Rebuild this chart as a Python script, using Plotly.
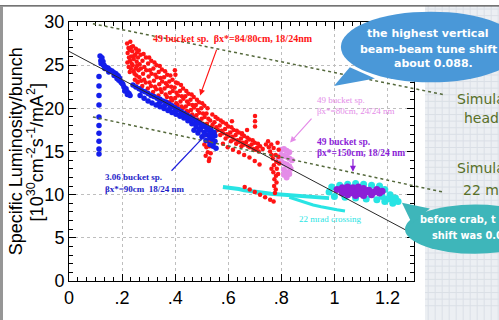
import numpy as np
import plotly.graph_objects as go

# ---------------- data ----------------
x_tick_vals = [0, 0.2, 0.4, 0.6, 0.8, 1.0, 1.2]
x_tick_text = ["0", ".2", ".4", ".6", ".8", "1", "1.2"]
y_tick_vals = [0, 5, 10, 15, 20, 25, 30]

# 3.06 bucket spacing, beta_x* = 90 cm
blue_x = [0.117, 0.124, 0.128, 0.121, 0.132, 0.139, 0.147, 0.154, 0.162, 0.170, 0.177, 0.185,
          0.181, 0.188, 0.196, 0.203, 0.207, 0.215, 0.219, 0.226, 0.230,
          0.120, 0.130, 0.135, 0.150, 0.170, 0.190, 0.200, 0.210, 0.220,
          0.241, 0.252, 0.264, 0.275, 0.286, 0.298, 0.309, 0.320, 0.332, 0.343, 0.354, 0.365,
          0.377, 0.388, 0.399, 0.411, 0.422, 0.433, 0.445, 0.456, 0.467, 0.479, 0.490, 0.501,
          0.512, 0.524, 0.535, 0.546,
          0.268, 0.283, 0.298, 0.313, 0.328, 0.343, 0.358, 0.373, 0.388, 0.403, 0.418, 0.433,
          0.448, 0.463, 0.479, 0.494, 0.509, 0.524, 0.539, 0.546, 0.543, 0.531, 0.516, 0.501,
          0.486, 0.471, 0.531, 0.550, 0.554,
          0.460, 0.480, 0.500, 0.520, 0.530, 0.540, 0.550, 0.510, 0.490, 0.440, 0.420, 0.400,
          0.380, 0.360, 0.340,
          0.113, 0.113, 0.113, 0.113, 0.113, 0.113, 0.113, 0.113, 0.113, 0.113]
blue_y = [26.07, 25.86, 25.42, 25.20, 24.98, 24.77, 24.66, 24.44, 24.33, 24.11, 24.00, 23.78,
          23.46, 23.24, 23.02, 22.80, 22.48, 22.26, 21.93, 21.71, 21.49,
          25.5, 25.0, 24.6, 24.2, 23.8, 23.5, 22.9, 22.0, 21.6,
          22.69, 22.48, 22.26, 22.04, 21.93, 21.71, 21.49, 21.38, 21.17, 21.06, 20.84, 20.73,
          20.51, 20.29, 20.08, 19.86, 19.64, 19.42, 19.20, 18.99, 18.77, 18.55, 18.33, 18.11,
          17.90, 17.68, 17.46, 17.24,
          21.49, 21.17, 20.84, 20.62, 20.40, 20.19, 19.97, 19.75, 19.53, 19.31, 19.09, 18.88,
          18.55, 18.22, 17.90, 17.57, 17.24, 16.91, 16.48, 16.04, 15.61, 15.82, 16.26, 16.70,
          17.13, 17.46, 16.59, 16.81, 15.39,
          18.6, 18.2, 17.9, 17.5, 17.0, 16.7, 16.2, 16.9, 17.5, 19.0, 19.3, 19.7,
          20.0, 20.3, 20.6,
          23.7, 22.6, 21.5, 20.4, 19.0, 18.0, 17.1, 16.2, 15.3, 14.7]

# 49 bucket spacing, beta_x* = 84/80 cm
red_x = [0.219, 0.224, 0.221, 0.226, 0.220, 0.225,
         0.231, 0.228, 0.234, 0.230, 0.233, 0.229,
         0.241, 0.238, 0.244, 0.240, 0.243,
         0.252, 0.249, 0.255, 0.251, 0.254, 0.248,
         0.263, 0.260, 0.266, 0.262, 0.265, 0.259,
         0.281, 0.277, 0.284, 0.279, 0.283, 0.276,
         0.302, 0.298, 0.305, 0.300, 0.304, 0.297,
         0.322, 0.318, 0.325, 0.320, 0.324, 0.317,
         0.342, 0.338, 0.345, 0.340, 0.344, 0.337,
         0.362, 0.358, 0.365, 0.360, 0.364,
         0.382, 0.378, 0.385, 0.380, 0.384, 0.377,
         0.399, 0.401, 0.403, 0.398, 0.405, 0.400, 0.404,
         0.422, 0.418, 0.425, 0.420, 0.424,
         0.442, 0.438, 0.445, 0.440, 0.444,
         0.462, 0.458, 0.465, 0.460, 0.464,
         0.482, 0.478, 0.485, 0.480, 0.484,
         0.502, 0.498, 0.505, 0.500, 0.504, 0.497,
         0.522, 0.518, 0.525, 0.520, 0.524, 0.517, 0.521, 0.518, 0.523,
         0.532, 0.536, 0.531, 0.535, 0.530, 0.534, 0.529,
         0.552, 0.548, 0.555, 0.550,
         0.572, 0.568, 0.575, 0.570,
         0.592, 0.588, 0.595, 0.590,
         0.612, 0.608, 0.615, 0.610,
         0.632, 0.628, 0.635, 0.630,
         0.652, 0.648, 0.655, 0.650,
         0.672, 0.668, 0.675,
         0.692, 0.688, 0.695,
         0.712, 0.708, 0.715,
         0.701, 0.701, 0.701, 0.671, 0.614, 0.652,
         0.750, 0.762, 0.771, 0.758, 0.779, 0.768, 0.781, 0.772, 0.783, 0.770, 0.780, 0.774,
         0.782, 0.773, 0.779, 0.776, 0.786, 0.790, 0.789, 0.764, 0.753, 0.742, 0.792, 0.763, 0.788,
         0.580, 0.598, 0.618, 0.640, 0.660, 0.680, 0.700, 0.718,
         0.662, 0.681, 0.700, 0.720, 0.739, 0.758, 0.771,
         0.235, 0.236, 0.246, 0.247, 0.257, 0.256, 0.258, 0.270, 0.271, 0.272,
         0.290, 0.291, 0.289, 0.310, 0.311, 0.309, 0.330, 0.331, 0.329,
         0.350, 0.351, 0.349, 0.370, 0.371, 0.369, 0.390, 0.391, 0.389,
         0.410, 0.411, 0.409, 0.430, 0.431, 0.429, 0.450, 0.451, 0.449,
         0.470, 0.471, 0.469, 0.490, 0.491, 0.489, 0.510, 0.511, 0.509,
         0.540, 0.541, 0.539, 0.560, 0.561, 0.580, 0.581, 0.600, 0.601,
         0.620, 0.621, 0.640, 0.641, 0.660, 0.661, 0.680, 0.681, 0.700, 0.701,
         0.720, 0.730, 0.515, 0.527, 0.510]
red_y = [27.5, 27.0, 26.4, 25.9, 25.3, 24.8,
         27.7, 26.8, 26.0, 25.5, 24.6, 24.2,
         27.2, 26.6, 25.7, 25.0, 24.3,
         26.9, 26.2, 25.4, 24.6, 23.8, 23.3,
         26.7, 25.9, 25.1, 24.4, 23.6, 23.0,
         26.3, 25.5, 24.8, 24.0, 23.3, 22.6,
         25.9, 25.2, 24.4, 23.7, 23.0, 22.3,
         25.3, 24.6, 23.9, 23.2, 22.5, 21.9,
         24.9, 24.2, 23.5, 22.8, 22.2, 21.5,
         24.3, 23.6, 22.9, 22.3, 21.6,
         23.8, 23.1, 22.5, 21.8, 21.2, 20.7,
         24.4, 23.9, 23.0, 22.4, 21.8, 21.2, 20.6,
         22.7, 22.0, 21.4, 20.8, 20.2,
         22.0, 21.4, 20.8, 20.2, 19.7,
         21.6, 21.0, 20.4, 19.8, 19.3,
         21.0, 20.4, 19.8, 19.2, 18.7,
         20.6, 20.0, 19.4, 18.8, 18.2, 17.5,
         20.0, 19.4, 18.8, 18.2, 17.6, 16.9, 16.2, 15.5, 14.9,
         18.6, 17.8, 17.0, 16.3, 15.6, 14.8, 14.2,
         19.0, 18.4, 17.8, 17.2,
         18.6, 18.0, 17.4, 16.9,
         18.2, 17.6, 17.0, 16.5,
         17.8, 17.2, 16.7, 16.2,
         17.4, 16.9, 16.3, 15.9,
         17.0, 16.5, 16.0, 15.6,
         16.6, 16.1, 15.6,
         16.3, 15.8, 15.3,
         15.9, 15.4, 15.0,
         19.1, 18.5, 17.9, 17.5, 18.5, 17.1,
         16.2, 15.8, 15.4, 15.0, 14.6, 14.2, 13.8, 13.4, 13.0, 12.6, 12.2, 11.8,
         11.4, 11.0, 10.6, 10.2, 16.0, 15.2, 14.4, 14.6, 15.5, 15.8, 13.6, 13.0, 12.4,
         15.9, 15.5, 15.2, 14.9, 14.6, 14.3, 13.9, 13.5,
         10.9, 10.6, 10.3, 10.0, 9.7, 9.4, 9.2,
         27.1, 25.2, 26.1, 24.0, 26.5, 24.9, 23.1, 26.2, 24.6, 23.2,
         25.9, 24.4, 23.0, 25.5, 24.0, 22.6, 25.0, 23.6, 22.2,
         24.5, 23.1, 21.9, 23.9, 22.6, 21.3, 23.3, 22.0, 20.9,
         22.9, 21.5, 20.4, 22.3, 21.1, 20.0, 21.7, 20.5, 19.6,
         21.3, 20.1, 19.0, 20.7, 19.5, 18.5, 20.3, 19.0, 17.9,
         19.3, 18.1, 16.6, 18.8, 17.5, 18.4, 17.1, 17.9, 16.8,
         17.5, 16.4, 17.2, 16.1, 16.8, 15.8, 16.4, 15.5, 16.0, 15.2,
         15.6, 15.3, 14.5, 13.9, 15.8]

# 49 bucket spacing, beta_x* = 80 cm, 24/24 nm
pink_x = [0.800, 0.810, 0.820, 0.830, 0.800, 0.810, 0.820, 0.830, 0.840, 0.800,
          0.810, 0.820, 0.830, 0.810, 0.820, 0.830, 0.820, 0.810, 0.790, 0.835]
pink_y = [15.2, 15.3, 15.1, 14.9, 14.6, 14.5, 14.4, 14.2, 14.0, 13.8,
          13.6, 13.5, 13.3, 12.9, 12.6, 12.4, 12.0, 12.3, 14.2, 13.0]

# 49 bucket spacing, beta_x* = 150 cm
purple_x = [1.01, 1.03, 1.05, 1.07, 1.09, 1.11, 1.13, 1.15, 1.17, 1.14, 1.11,
            1.08, 1.05, 1.03, 1.06, 1.09, 1.12, 1.07, 1.10, 1.04, 1.16, 1.18]
purple_y = [10.6, 10.8, 10.9, 10.8, 10.9, 10.7, 10.5, 10.3, 10.2, 10.0, 9.9,
            9.9, 10.0, 10.2, 10.4, 10.5, 10.3, 10.2, 10.1, 10.5, 10.6, 10.4]

# 22 mrad crossing (before crab)
cyan_main_x = [0.58, 0.60, 0.62, 0.64, 0.66, 0.68, 0.70, 0.72, 0.74, 0.76, 0.78,
               0.80, 0.82, 0.84, 0.86, 0.88, 0.90, 0.92, 0.94, 0.96, 0.98]
cyan_main_y = [10.9, 10.85, 10.7, 10.65, 10.5, 10.45, 10.3, 10.3, 10.2, 10.1, 10.05,
               10.0, 9.9, 9.95, 9.8, 9.75, 9.75, 9.65, 9.6, 9.55, 9.6]
cyan_low_x = [0.83, 0.86, 0.89, 0.92, 0.95, 0.98, 1.01, 1.04]
cyan_low_y = [9.7, 9.4, 9.1, 8.8, 8.6, 8.4, 8.25, 8.1]
cyan_cloud_x = [0.99, 1.02, 1.05, 1.08, 1.11, 1.14, 1.17, 1.19, 1.21, 1.23, 1.24,
                1.22, 1.19, 1.16, 1.12, 1.08, 1.04, 1.00, 0.98, 1.20, 1.22, 1.18]
cyan_cloud_y = [10.9, 11.1, 11.2, 11.3, 11.2, 11.1, 11.0, 10.6, 10.0, 9.6, 9.2,
                9.0, 9.2, 9.4, 9.5, 9.6, 9.7, 9.8, 10.3, 9.5, 9.4, 9.8]

# straight-line fit through the data
fit_x = [0.0, 1.3]
fit_y = [26.6, 5.4]

# simulation expectations (dotted)
sim_hi_x = [0.09, 1.41]
sim_hi_y = [29.8, 21.6]
sim_lo_x = [0.09, 1.41]
sim_lo_y = [19.0, 10.3]

X_RANGE = [0, 1.3]
Y_RANGE = [0, 30]


def to_px(x):
    return (x - X_RANGE[0]) / (X_RANGE[1] - X_RANGE[0])


def to_py(y):
    return (y - Y_RANGE[0]) / (Y_RANGE[1] - Y_RANGE[0])


RED = "rgb(255,20,20)"
BLUE = "rgb(20,30,235)"
PINK = "rgb(228,140,232)"
PURPLE = "rgb(140,30,215)"
CYAN = "rgb(40,228,228)"

fig = go.Figure()

fig.add_trace(go.Scatter(x=cyan_main_x, y=cyan_main_y, mode="lines",
                         line=dict(color=CYAN, width=4), hoverinfo="skip"))
fig.add_trace(go.Scatter(x=cyan_low_x, y=cyan_low_y, mode="lines",
                         line=dict(color=CYAN, width=3), hoverinfo="skip"))
fig.add_trace(go.Scatter(x=cyan_cloud_x, y=cyan_cloud_y, mode="markers",
                         marker=dict(color=CYAN, size=7, line=dict(width=0))))
fig.add_trace(go.Scatter(x=purple_x, y=purple_y, mode="markers",
                         marker=dict(color=PURPLE, size=7, line=dict(width=0))))
fig.add_trace(go.Scatter(x=pink_x, y=pink_y, mode="markers",
                         marker=dict(color=PINK, size=6, line=dict(width=0))))
fig.add_trace(go.Scatter(x=red_x, y=red_y, mode="markers",
                         marker=dict(color=RED, size=4.5, line=dict(width=0))))
fig.add_trace(go.Scatter(x=blue_x, y=blue_y, mode="markers",
                         marker=dict(color=BLUE, size=5.5, line=dict(width=0))))
fig.add_trace(go.Scatter(x=fit_x, y=fit_y, mode="lines",
                         line=dict(color="rgb(40,40,40)", width=1)))

shapes = []
# slide background to the right of the chart (graph paper)
shapes.append(dict(type="rect", xref="paper", yref="paper", x0=1.032, x1=1.3, y0=-0.2, y1=1.062,
                   fillcolor="rgb(236,239,243)", line=dict(width=0), layer="below"))
for gx in np.arange(1.041, 1.26, 7 / 345):
    shapes.append(dict(type="line", xref="paper", yref="paper", x0=gx, x1=gx, y0=-0.2, y1=1.062,
                       line=dict(color="rgb(218,223,230)", width=1), layer="below"))
for gy in np.arange(1.05, -0.1, -7 / 275):
    shapes.append(dict(type="line", xref="paper", yref="paper", x0=1.032, x1=1.3, y0=gy, y1=gy,
                       line=dict(color="rgb(218,223,230)", width=1), layer="below"))
# frame of the slide region
shapes.append(dict(type="line", xref="paper", yref="paper", x0=-0.25, x1=1.3, y0=1.062, y1=1.062,
                   line=dict(color="rgb(70,70,70)", width=1.2)))
shapes.append(dict(type="rect", xref="paper", yref="paper", x0=-0.21, x1=-0.1913, y0=-0.2, y1=1.062,
                   fillcolor="rgb(150,150,150)", line=dict(width=0)))
# simulation lines
for sx, sy in ((sim_hi_x, sim_hi_y), (sim_lo_x, sim_lo_y)):
    shapes.append(dict(type="line", xref="paper", yref="paper",
                       x0=to_px(sx[0]), y0=to_py(sy[0]), x1=to_px(sx[1]), y1=to_py(sy[1]),
                       line=dict(color="rgb(85,105,60)", width=1.5, dash="dot")))
# speech bubbles
BUBBLE_BLUE = "rgb(74,152,216)"
BUBBLE_TEAL = "rgb(62,182,186)"
shapes.append(dict(type="circle", xref="paper", yref="paper", x0=0.788, x1=1.31, y0=0.767, y1=1.04,
                   fillcolor=BUBBLE_BLUE, line=dict(width=0)))
shapes.append(dict(type="path", xref="paper", yref="paper",
                   path="M 0.814,0.825 L 0.768,0.753 L 0.887,0.782 Z",
                   fillcolor=BUBBLE_BLUE, line=dict(width=0)))
shapes.append(dict(type="circle", xref="paper", yref="paper", x0=0.974, x1=1.38, y0=0.105, y1=0.295,
                   fillcolor=BUBBLE_TEAL, line=dict(width=0)))
shapes.append(dict(type="path", xref="paper", yref="paper",
                   path="M 0.965,0.302 L 1.046,0.280 L 0.994,0.222 Z",
                   fillcolor=BUBBLE_TEAL, line=dict(width=0)))

SERIF = "Liberation Serif"
ann = []


def label(x, y, text, color, size=9.5, bold=True):
    t = f"<b>{text}</b>" if bold else text
    ann.append(dict(x=x, y=y, xref="x", yref="y", text=t, showarrow=False, xanchor="left",
                    yanchor="middle", font=dict(family=SERIF, size=size, color=color)))


def arrow(x, y, ax, ay, color, head=2):
    ann.append(dict(x=x, y=y, ax=ax, ay=ay, xref="x", yref="y", axref="x", ayref="y", text="",
                    showarrow=True, arrowhead=head, arrowsize=1, arrowwidth=1.2, arrowcolor=color))


label(0.309, 28.04, "49 bucket sp.  βx*=84/80cm, 18/24nm", RED, size=10)
arrow(0.494, 21.5, 0.558, 26.95, RED)
label(0.128, 12.0, "3.06 bucket sp.", "rgb(30,30,200)", size=9)
label(0.128, 10.7, "βx*=90cm  18/24 nm", "rgb(30,30,200)", size=9)
arrow(0.52, 17.1, 0.381, 12.6, "rgb(30,30,220)", head=0)
label(0.927, 20.95, "49 bucket sp.", PINK, size=9, bold=False)
label(0.927, 19.64, "βx*=80cm, 24/24 nm", PINK, size=9, bold=False)
arrow(0.833, 16.04, 0.919, 18.99, PINK)
label(0.927, 16.15, "49 bucket sp.", PURPLE, size=9.5)
label(0.927, 14.84, "βx*=150cm, 18/24 nm", PURPLE, size=9.5)
arrow(1.07, 12.66, 1.07, 14.3, PURPLE)
label(0.859, 7.21, "22 mrad crossing", CYAN, size=9, bold=False)


def paper_text(x, y, text, color, size, family="DejaVu Sans", bold=False):
    t = f"<b>{text}</b>" if bold else text
    ann.append(dict(x=x, y=y, xref="paper", yref="paper", text=t, showarrow=False, xanchor="left",
                    yanchor="middle", font=dict(family=family, size=size, color=color)))


paper_text(0.858, 0.956, "the highest vertical", "white", 11, bold=True)
paper_text(0.838, 0.895, "beam-beam tune shift", "white", 11, bold=True)
paper_text(0.936, 0.840, "about 0.088.", "white", 11, bold=True)
paper_text(1.012, 0.236, "before crab, t", "white", 9.8, bold=True)
paper_text(1.046, 0.175, "shift was 0.0", "white", 9.8, bold=True)
OLIVE = "rgb(88,112,40)"
paper_text(1.119, 0.702, "Simula", OLIVE, 14)
paper_text(1.139, 0.629, "head-", OLIVE, 14)
paper_text(1.119, 0.436, "Simula", OLIVE, 14)
paper_text(1.136, 0.353, "22 mr", OLIVE, 14)

# y-axis title (two lines)
ann.append(dict(x=-0.154, y=0.5, xref="paper", yref="paper", text="Specific Luminosity/bunch",
                textangle=-90, showarrow=False, xanchor="center", yanchor="middle",
                font=dict(family="Liberation Sans", size=18, color="black")))
ann.append(dict(x=-0.096, y=0.5, xref="paper", yref="paper",
                text="[10<sup>30</sup>cm<sup>-2</sup>s<sup>-1</sup>/mA<sup>2</sup>]",
                textangle=-90, showarrow=False, xanchor="center", yanchor="middle",
                font=dict(family="Liberation Sans", size=18, color="black")))

axis_common = dict(showline=True, linecolor="black", linewidth=1, mirror="ticks",
                   ticks="inside", ticklen=7, tickcolor="black",
                   showgrid=True, gridcolor="rgb(190,190,190)", griddash="dot", gridwidth=1,
                   zeroline=False,
                   tickfont=dict(family="Liberation Sans", size=18, color="black"))

fig.update_layout(
    width=499, height=320,
    margin=dict(l=69, r=85, t=22, b=23),
    paper_bgcolor="white", plot_bgcolor="white",
    showlegend=False,
    xaxis=dict(range=X_RANGE, tickvals=x_tick_vals, ticktext=x_tick_text,
               minor=dict(ticks="inside", ticklen=4, tickcolor="black", dtick=0.2 / 6, tick0=0,
                          showgrid=False),
               **axis_common),
    yaxis=dict(range=Y_RANGE, tickvals=y_tick_vals,
               minor=dict(ticks="inside", ticklen=4, tickcolor="black", dtick=1, tick0=0,
                          showgrid=False),
               **axis_common),
    shapes=shapes,
    annotations=ann,
)

fig.write_html("out.html")
